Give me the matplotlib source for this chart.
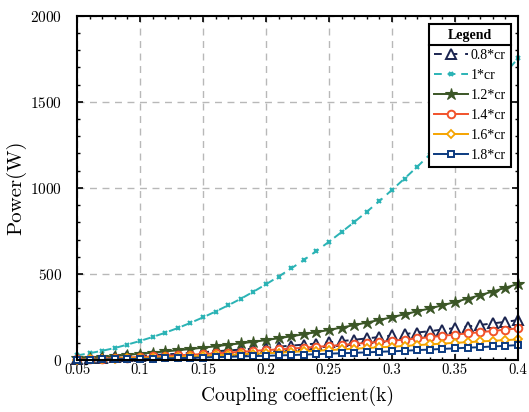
import matplotlib
matplotlib.use('Agg')
import matplotlib.pyplot as plt
from matplotlib.lines import Line2D
from matplotlib.ticker import MultipleLocator

# coupling coefficient
k = [0.05, 0.06, 0.07, 0.08, 0.09, 0.10, 0.11, 0.12, 0.13, 0.14, 0.15, 0.16,
     0.17, 0.18, 0.19, 0.20, 0.21, 0.22, 0.23, 0.24, 0.25, 0.26, 0.27, 0.28,
     0.29, 0.30, 0.31, 0.32, 0.33, 0.34, 0.35, 0.36, 0.37, 0.38, 0.39, 0.40]

# power (W) for each load
p_08 = [8, 11, 14, 17, 21, 25, 29, 33, 37, 41, 46, 51,
        56, 61, 66, 72, 78, 84, 90, 96, 103, 110, 118, 126,
        134, 143, 151, 160, 168, 177, 186, 195, 204, 213, 222, 232]
p_10 = [27, 40, 54, 70, 90, 111, 134, 159, 186, 216, 248, 282,
        318, 356, 397, 440, 485, 532, 581, 633, 687, 743, 801, 861,
        923, 988, 1054, 1122, 1193, 1266, 1341, 1419, 1499, 1580, 1665, 1752]
p_12 = [12, 15, 19, 24, 30, 37, 43, 50, 57, 64, 72, 80,
        89, 97, 106, 116, 127, 138, 150, 162, 175, 189, 203, 218,
        233, 249, 266, 283, 300, 318, 337, 357, 377, 398, 420, 442]
p_14 = [5, 7, 9, 12, 15, 18, 21, 24, 28, 31, 35, 39,
        44, 48, 53, 58, 62, 67, 72, 77, 82, 88, 94, 100,
        106, 112, 119, 126, 133, 141, 148, 155, 162, 169, 177, 184]
p_16 = [3, 4, 6, 8, 10, 12, 14, 16, 19, 21, 24, 27,
        30, 33, 37, 40, 43, 47, 51, 54, 58, 62, 66, 70,
        74, 78, 82, 87, 91, 96, 100, 104, 108, 112, 116, 120]
p_18 = [2, 3, 4, 5, 6, 7, 8, 10, 11, 13, 15, 17,
        19, 21, 23, 25, 27, 29, 32, 34, 37, 40, 42, 45,
        48, 51, 54, 58, 61, 65, 68, 72, 75, 79, 83, 87]

labels = ['0.8*cr', '1*cr', '1.2*cr', '1.4*cr', '1.6*cr', '1.8*cr']

plt.rcParams['font.family'] = 'serif'
plt.rcParams['font.serif'] = ['cmr10', 'DejaVu Serif']
plt.rcParams['mathtext.fontset'] = 'cm'
plt.rcParams['axes.formatter.use_mathtext'] = True

fig = plt.figure(figsize=(5.29, 4.12), dpi=100)
ax = fig.add_axes([0.1456, 0.126, 0.8334, 0.836])

# grid first so lines sit on top
ax.grid(True, which='major', color='#b8b8b8', linestyle=(0, (5, 4)), linewidth=1.0)
ax.set_axisbelow(True)

ax.plot(k, p_08, color='#1b2550', linestyle=(0, (4, 4)), linewidth=1.4,
        marker='^', markersize=6.5, markerfacecolor='white', markeredgewidth=1.4,
        label=labels[0], clip_on=False)
ax.plot(k, p_10, color='#2bb3b5', linestyle=(0, (4, 3)), linewidth=1.4,
        marker='x', markersize=3.5, markeredgewidth=1.5,
        label=labels[1], clip_on=False)
ax.plot(k, p_12, color='#3b5626', linestyle='-', linewidth=1.4,
        marker='*', markersize=9, markeredgewidth=0.8,
        label=labels[2], clip_on=False)
ax.plot(k, p_14, color='#f1522b', linestyle='-', linewidth=1.4,
        marker='o', markersize=5.5, markerfacecolor='white', markeredgewidth=1.4,
        label=labels[3], clip_on=False)
ax.plot(k, p_16, color='#f5a400', linestyle='-', linewidth=1.4,
        marker='D', markersize=4.5, markerfacecolor='white', markeredgewidth=1.3,
        label=labels[4], clip_on=False)
ax.plot(k, p_18, color='#0b3a80', linestyle='-', linewidth=1.4,
        marker='s', markersize=5, markerfacecolor='white', markeredgewidth=1.4,
        label=labels[5], clip_on=False)

ax.set_xlim(0.05, 0.4)
ax.set_ylim(0, 2000)
ax.set_xticks([0.05, 0.1, 0.15, 0.2, 0.25, 0.3, 0.35, 0.4])
ax.set_xticklabels(['0.05', '0.1', '0.15', '0.2', '0.25', '0.3', '0.35', '0.4'])
ax.set_yticks([0, 500, 1000, 1500, 2000])
ax.xaxis.set_minor_locator(MultipleLocator(0.01))
ax.yaxis.set_minor_locator(MultipleLocator(100))
ax.tick_params(which='both', direction='in', top=True, right=True)
ax.tick_params(axis='x', labelsize=10.5, pad=2)
ax.tick_params(axis='y', labelsize=11, pad=10.5)
ax.tick_params(which='major', length=4, width=1.2)
ax.tick_params(which='minor', length=2.5, width=1.0)
for s in ax.spines.values():
    s.set_linewidth(1.5)

ax.set_xlabel('Coupling coefficient(k)', fontsize=14, labelpad=7)
ax.set_ylabel('Power(W)', fontsize=15, labelpad=3)

leg = ax.legend(loc='upper right', bbox_to_anchor=(0.985, 0.977),
                title='Legend', fancybox=False, framealpha=1, edgecolor='black',
                prop={'family': 'Liberation Serif', 'size': 10},
                title_fontproperties={'family': 'Liberation Serif', 'weight': 'bold', 'size': 10},
                handlelength=2.4, handletextpad=0.2, labelspacing=0.5,
                borderpad=0.4, borderaxespad=0.0)
leg.get_frame().set_linewidth(1.5)

# separator line under the legend title
fig.canvas.draw()
r = fig.canvas.get_renderer()
fb = leg.get_frame().get_window_extent(r)
tb = leg.get_title().get_window_extent(r)
ysep = tb.y0 - 3
inv = fig.transFigure.inverted()
x0, y0 = inv.transform((fb.x0, ysep))
x1, _ = inv.transform((fb.x1, ysep))
fig.add_artist(Line2D([x0, x1], [y0, y0], color='black', linewidth=1.5,
                      transform=fig.transFigure, zorder=10))

fig.savefig('out.png', dpi=100)
